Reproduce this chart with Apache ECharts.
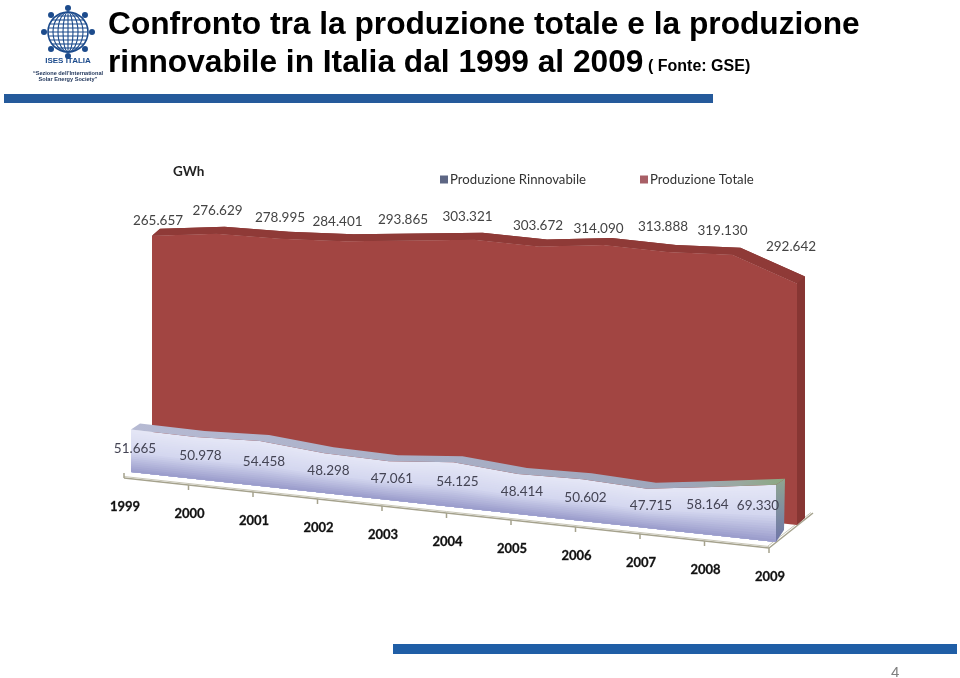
<!DOCTYPE html>
<html><head><meta charset="utf-8">
<style>html,body{margin:0;padding:0;background:#fff}#c{width:960px;height:678px}</style>
<script src="https://cdn.jsdelivr.net/npm/echarts@6/dist/echarts.min.js"></script>
</head><body><div id="c"></div>
<script>
const years = ['1999','2000','2001','2002','2003','2004','2005','2006','2007','2008','2009'];
const totale = [265.657,276.629,278.995,284.401,293.865,303.321,303.672,314.090,313.888,319.130,292.642];
const rinnovabile = [51.665,50.978,54.458,48.298,47.061,54.125,48.414,50.602,47.715,58.164,69.330];
const nameTot = 'Produzione Totale';
const nameRin = 'Produzione Rinnovabile';

// pseudo-3D projection applied on top of the axis scales
const SKEW = 70/645, X0 = 152;
const project = (api,i,v,dx,dy)=>{const p=api.coord([i,v]);return [p[0]+dx,p[1]+(p[0]-X0)*SKEW+dy];};
const lerp=(a,b,t)=>a.map((x,k)=>x+(b[k]-x)*t);
const rgb=c=>`rgb(${c.map(Math.round).join(',')})`;
const FONT='"Lato","Open Sans",sans-serif';
// label nudges from the automatic anchor
const totNudge=[[-2,-8],[-7,-16],[-9,-14],[-16,-13],[-15,-14],[-15,-16],[-9,-14],[-13,-9],[-13,-18],[-18,-17],[-14,-30]];
const rinNudge=[[4,-23],[5,-23],[4,-24],[4,-22],[3,-21],[4,-25],[4,-22],[3,-23],[4,-22],[-4,-30],[-18,-36]];

function renderTot(params,api){
  const i=params.dataIndex, ch=[];
  if(i===0){
    const n=totale.length, top=[],base=[],back=[];
    for(let k=0;k<n;k++){top.push(project(api,k,totale[k],0,0));base.push(project(api,k,0,0,0));back.push(project(api,k,totale[k],8,-7));}
    const bb=base[n-1],br=[bb[0]+8,bb[1]-7];
    ch.push({type:'polygon',shape:{points:[...back,br,bb,top[n-1],...top.slice().reverse()]},style:{fill:'#873633'}});
    ch.push({type:'polygon',shape:{points:[...top,...base.slice().reverse()]},style:{fill:'#a24542'}});
    ch.push({type:'polygon',shape:{points:[...back,...top.slice().reverse()]},style:{fill:'#8f3a37'}});
  }
  const a=project(api,i,totale[i],8,-7);
  ch.push({type:'text',z2:50,style:{text:totale[i].toFixed(3),x:a[0]+totNudge[i][0],y:a[1]+totNudge[i][1],align:'center',verticalAlign:'middle',font:'13.5px '+FONT,fill:'#444'}});
  return {type:'group',children:ch};
}
function renderRin(params,api){
  const i=params.dataIndex, ch=[];
  const dx=-21, dy=17;
  if(i===0){
    const n=rinnovabile.length, top=[],base=[],back=[];
    for(let k=0;k<n;k++){top.push(project(api,k,rinnovabile[k],dx,dy));base.push(project(api,k,0,dx,dy));back.push(project(api,k,rinnovabile[k],dx+9,dy-6));}
    const bb=base[n-1],br=[bb[0]+8,bb[1]-12];
    ch.push({type:'polygon',shape:{points:[back[n-1],br,bb,top[n-1]]},style:{fill:{type:'linear',x:0,y:0,x2:0,y2:1,colorStops:[{offset:0,color:'#8fa58f'},{offset:.5,color:'#7f8fa0'},{offset:1,color:'#6f75a8'}]}}});
    const c0=[228,230,246],c1=[212,215,239],c2=[150,152,201];
    const L=22;
    for(let s=0;s<L;s++){
      const t=s/L, col=t<.5?lerp(c0,c1,t*2):lerp(c1,c2,(t-.5)*2);
      const edge=top.map((p,k)=>[p[0],p[1]+(base[k][1]-p[1])*t]);
      ch.push({type:'polygon',shape:{points:[...edge,...base.slice().reverse()]},style:{fill:rgb(col)}});
    }
    ch.push({type:'polygon',shape:{points:[...back,...top.slice().reverse()]},style:{fill:{type:'linear',x:0,y:0,x2:1,y2:0,colorStops:[{offset:0,color:'#b6bad3'},{offset:.85,color:'#9ea6bb'},{offset:.93,color:'#9aa8a0'},{offset:1,color:'#8aa880'}]}}});
  }
  const b=project(api,i,0,dx,dy);
  ch.push({type:'text',z2:50,style:{text:rinnovabile[i].toFixed(3),x:b[0]+rinNudge[i][0],y:b[1]+rinNudge[i][1],align:'center',verticalAlign:'middle',font:'13.5px '+FONT,fill:'#444454'}});
  return {type:'group',children:ch};
}
function renderAxis(params,api){
  const i=params.dataIndex, ch=[], dx=-28, dy=23, n=years.length;
  const p=project(api,i,0,dx,dy);
  const ln={stroke:'#a5a28d',lineWidth:1.5};
  if(i===0){
    const q=project(api,n-1,0,dx,dy), w=[q[0]+44,q[1]-35];
    ch.push({type:'line',shape:{x1:p[0],y1:p[1],x2:q[0],y2:q[1]},style:ln});
    ch.push({type:'line',shape:{x1:p[0],y1:p[1]-1.5,x2:q[0],y2:q[1]-1.5},style:{stroke:'#c9c7b8',lineWidth:1}});
    ch.push({type:'line',shape:{x1:q[0],y1:q[1],x2:w[0],y2:w[1]},style:ln});
    ch.push({type:'line',shape:{x1:q[0]-1,y1:q[1]-2,x2:w[0]-2,y2:w[1]-.5},style:{stroke:'#c9c7b8',lineWidth:1}});
    ch.push({type:'line',shape:{x1:p[0],y1:p[1]-5,x2:p[0],y2:p[1]},style:ln});
  } else {
    ch.push({type:'line',shape:{x1:p[0],y1:p[1],x2:p[0],y2:p[1]+5},style:ln});
  }
  ch.push({type:'text',style:{text:years[i],x:p[0]+1,y:p[1]+29,align:'center',verticalAlign:'middle',font:'bold 13px '+FONT,fill:'#111',stroke:'#333',lineWidth:.3}});
  return {type:'group',children:ch};
}

// ISES logo built from primitives
const LOGO='#1c4b8c', lx=68, ly=32, lr=20;
const logo=[];
logo.push({type:'circle',shape:{cx:lx,cy:ly,r:lr},style:{fill:'#fff',stroke:LOGO,lineWidth:1.6}});
[-16,-12,-8,-4,0,4,8,12,16].forEach(d=>{const h=Math.sqrt(lr*lr-d*d);
  logo.push({type:'line',shape:{x1:lx-h,y1:ly+d,x2:lx+h,y2:ly+d},style:{stroke:LOGO,lineWidth:1.1}});});
[5,10,15].forEach(r=>logo.push({type:'ellipse',shape:{cx:lx,cy:ly,rx:r,ry:lr},style:{fill:'none',stroke:LOGO,lineWidth:1.1}}));
logo.push({type:'line',shape:{x1:lx,y1:ly-lr,x2:lx,y2:ly+lr},style:{stroke:LOGO,lineWidth:1.1}});
for(let a=0;a<8;a++){const t=a*Math.PI/4;
  logo.push({type:'circle',shape:{cx:lx+24*Math.cos(t),cy:ly+24*Math.sin(t),r:3},style:{fill:LOGO}});}
logo.push({type:'text',style:{text:'ISES ITALIA',x:lx,y:61,align:'center',verticalAlign:'middle',font:'bold 8px "Liberation Sans"',fill:LOGO}});
logo.push({type:'text',style:{text:'“Sezione dell’International',x:lx,y:73,align:'center',verticalAlign:'middle',font:'bold 5.6px "Liberation Sans"',fill:'#22375c'}});
logo.push({type:'text',style:{text:'Solar Energy Society”',x:lx,y:79,align:'center',verticalAlign:'middle',font:'bold 5.6px "Liberation Sans"',fill:'#22375c'}});

const chart=echarts.init(document.getElementById('c'),null,{renderer:'canvas'});
chart.setOption({
  backgroundColor:'#fff',animation:false,
  title:[
    {text:'Confronto tra la produzione totale e la produzione\nrinnovabile in Italia dal 1999 al 2009',left:108,top:6,padding:0,
     textStyle:{fontFamily:'"Liberation Sans"',fontWeight:'bold',fontSize:31.7,lineHeight:38,color:'#000'}},
    {text:'( Fonte: GSE)',left:648,top:59,padding:0,textStyle:{fontFamily:'"Liberation Sans"',fontWeight:'bold',fontSize:16,color:'#000'}},
    {text:'GWh',left:173,top:165,padding:0,textStyle:{fontFamily:FONT,fontWeight:'bold',fontSize:13.5,color:'#222'}},
    {text:'4',left:891,top:665,padding:0,textStyle:{fontFamily:'"Liberation Sans"',fontWeight:'normal',fontSize:15,color:'#7f7f7f'}}
  ],
  legend:{left:440,top:173,itemWidth:8,itemHeight:8,itemGap:54,icon:'rect',padding:0,
    data:[{name:nameRin,itemStyle:{color:'#5d6684'}},{name:nameTot,itemStyle:{color:'#a85f66'}}],
    textStyle:{fontFamily:FONT,fontSize:13.2,color:'#333',padding:[0,0,0,-3]}},
  grid:{left:152,top:125,width:645,height:330},
  xAxis:{type:'category',data:years,boundaryGap:false,show:false},
  yAxis:{type:'value',min:0,max:400,show:false},
  graphic:[
    {type:'rect',shape:{x:4,y:94,width:709,height:9},style:{fill:'#255a9b'}},
    {type:'rect',shape:{x:393,y:644,width:564,height:10},style:{fill:'#1f5ea6'}},
    {type:'group',children:logo}
  ],
  series:[
    {type:'custom',name:'assi',coordinateSystem:'cartesian2d',z:1,silent:true,data:years.map((y,i)=>[i,0]),renderItem:renderAxis,encode:{x:0,y:1}},
    {type:'custom',name:nameTot,coordinateSystem:'cartesian2d',z:2,itemStyle:{color:'#a24542'},data:totale.map((v,i)=>[i,v]),renderItem:renderTot,encode:{x:0,y:1}},
    {type:'custom',name:nameRin,coordinateSystem:'cartesian2d',z:3,itemStyle:{color:'#5d6684'},data:rinnovabile.map((v,i)=>[i,v]),renderItem:renderRin,encode:{x:0,y:1}}
  ]
});
</script></body></html>
